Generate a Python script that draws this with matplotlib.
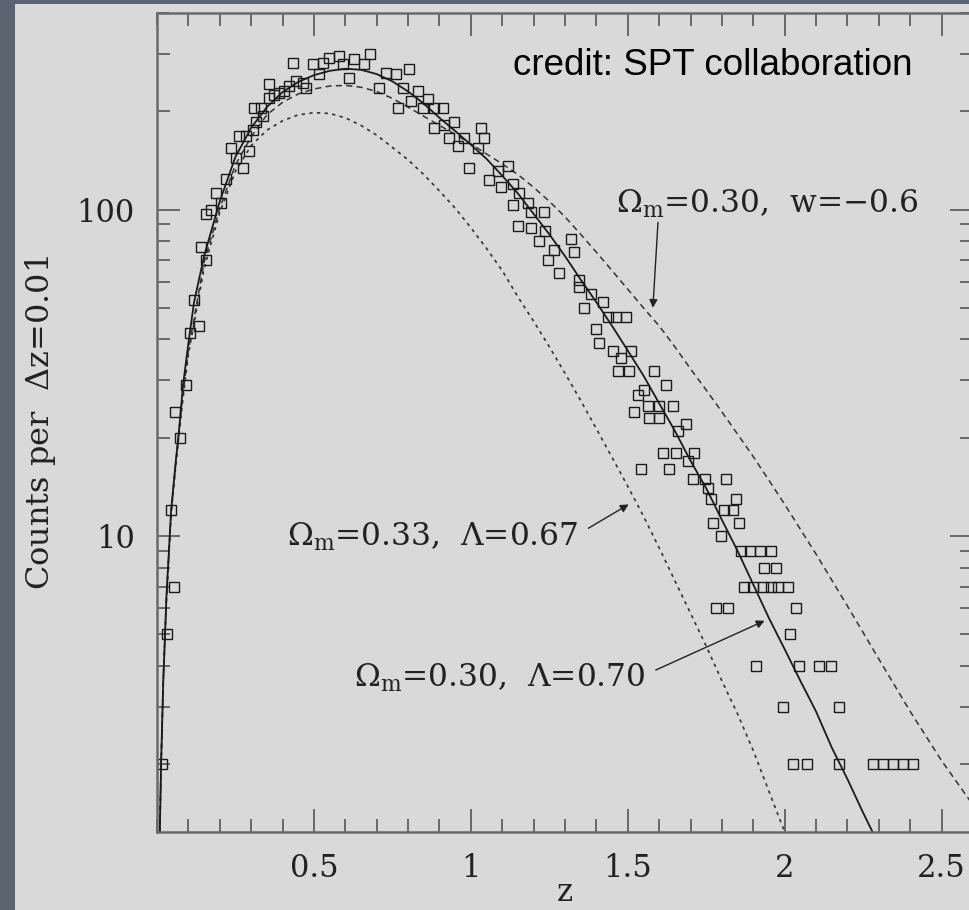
import numpy as np
import matplotlib
matplotlib.use("Agg")
import matplotlib.pyplot as plt
from matplotlib.patches import Rectangle
from matplotlib.ticker import MultipleLocator, LogLocator, FixedLocator, FixedFormatter, NullFormatter

plt.rcParams['font.family'] = ['DejaVu Serif']
plt.rcParams['mathtext.fontset'] = 'dejavuserif'

# simulated cluster counts per dz=0.01
data_z = [0.015, 0.032, 0.045, 0.054, 0.057, 0.072, 0.092, 0.104, 0.118, 0.134,
          0.140, 0.156, 0.156, 0.172, 0.188, 0.204, 0.220, 0.236, 0.252, 0.261,
          0.274, 0.283, 0.293, 0.306, 0.309, 0.315, 0.331, 0.338, 0.357, 0.357,
          0.373, 0.389, 0.404, 0.420, 0.433, 0.443, 0.465, 0.475, 0.497, 0.516,
          0.529, 0.548, 0.580, 0.592, 0.611, 0.627, 0.660, 0.680, 0.707, 0.729,
          0.761, 0.767, 0.783, 0.803, 0.809, 0.831, 0.847, 0.863, 0.882, 0.882,
          0.911, 0.914, 0.930, 0.946, 0.959, 0.978, 0.994, 1.022, 1.032, 1.041,
          1.057, 1.086, 1.096, 1.118, 1.134, 1.134, 1.150, 1.153, 1.182, 1.191,
          1.191, 1.217, 1.232, 1.236, 1.245, 1.264, 1.280, 1.318, 1.328, 1.344,
          1.344, 1.360, 1.382, 1.398, 1.408, 1.420, 1.436, 1.452, 1.462, 1.468,
          1.478, 1.494, 1.503, 1.510, 1.519, 1.532, 1.541, 1.551, 1.564, 1.567,
          1.583, 1.599, 1.599, 1.611, 1.621, 1.631, 1.643, 1.653, 1.659, 1.685,
          1.691, 1.707, 1.710, 1.745, 1.755, 1.764, 1.771, 1.780, 1.796, 1.806,
          1.812, 1.820, 1.834, 1.844, 1.854, 1.860, 1.870, 1.890, 1.900, 1.908,
          1.920, 1.930, 1.933, 1.955, 1.955, 1.971, 1.980, 1.994, 2.010, 2.016,
          2.025, 2.035, 2.045, 2.070, 2.108, 2.146, 2.172, 2.172, 2.280, 2.312,
          2.344, 2.376, 2.408]
data_n = [2, 5, 12, 7, 24, 20, 29, 42, 53, 44,
          77, 70, 97, 100, 112, 105, 124, 154, 144, 168,
          134, 168, 151, 175, 204, 185, 205, 194, 220, 243,
          224, 227, 231, 239, 282, 248, 244, 236, 280, 261,
          282, 292, 296, 279, 253, 290, 279, 300, 236, 262,
          261, 204, 236, 270, 215, 231, 204, 218, 205, 178,
          204, 181, 166, 185, 157, 166, 134, 154, 178, 166,
          123, 131, 117, 136, 120, 103, 89, 112, 105, 98,
          88, 80, 98, 86, 70, 75, 64, 81, 74, 61,
          58, 50, 55, 43, 39, 52, 47, 37, 47, 32,
          35, 47, 32, 37, 24, 27, 16, 28, 25, 23,
          32, 25, 23, 18, 29, 16, 25, 18, 21, 22,
          17, 15, 18, 15, 14, 13, 11, 6, 10, 12,
          15, 6, 12, 13, 11, 9, 7, 9, 7, 4,
          9, 7, 8, 9, 7, 8, 7, 3, 7, 5,
          2, 6, 4, 2, 4, 4, 3, 2, 2, 2,
          2, 2, 2]

# model curves
fit_z = [0.009, 0.013, 0.02, 0.03, 0.045, 0.06, 0.07, 0.083, 0.1, 0.118, 0.15, 0.2,
         0.25, 0.3, 0.35, 0.4, 0.45, 0.5, 0.55, 0.6, 0.65, 0.7, 0.75, 0.8, 0.85,
         0.9, 0.95, 1.0, 1.05, 1.1, 1.15, 1.2, 1.25, 1.3, 1.35, 1.4, 1.45, 1.5,
         1.55, 1.6, 1.65, 1.7, 1.75, 1.8, 1.85, 1.9, 1.95, 2.0, 2.05, 2.1, 2.15,
         2.2, 2.25, 2.28]
fit_n = [1.24, 2.0, 3.6, 6.5, 12, 17, 21, 29, 39, 52, 72, 106,
         145, 178, 206, 229, 246, 258, 266, 270, 268, 260, 247, 230, 211,
         191, 174, 158, 143, 127, 112, 97, 84, 72, 61, 52, 44, 37,
         31, 25.5, 21, 17, 14, 11.2, 9, 7.1, 5.6, 4.5, 3.6, 2.9, 2.25,
         1.8, 1.42, 1.24]

wde_z = [0.009, 0.013, 0.02, 0.03, 0.045, 0.06, 0.08, 0.1, 0.15, 0.2, 0.25, 0.3,
         0.35, 0.4, 0.45, 0.5, 0.55, 0.6, 0.65, 0.7, 0.75, 0.8, 0.85, 0.9, 0.95,
         1.0, 1.05, 1.1, 1.15, 1.2, 1.25, 1.3, 1.35, 1.4, 1.45, 1.5, 1.55, 1.6,
         1.65, 1.7, 1.75, 1.8, 1.85, 1.9, 1.95, 2.0, 2.1, 2.2, 2.3, 2.4, 2.5, 2.6]
wde_n = [1.24, 2.0, 3.6, 6.4, 11.8, 16.8, 26, 37, 69, 101, 137, 167,
         195, 213, 226, 234, 239, 240, 237, 230, 219, 206, 193, 181, 170,
         159, 148, 138, 128, 117, 106, 95, 84, 74, 65, 57, 50, 44,
         38, 32.5, 28, 24, 20.5, 17.5, 14.8, 12.5, 8.8, 6.1, 4.2, 2.9, 2.05, 1.5]

lam_z = [0.009, 0.013, 0.02, 0.03, 0.045, 0.06, 0.08, 0.1, 0.15, 0.2, 0.25, 0.3,
         0.35, 0.4, 0.45, 0.5, 0.55, 0.6, 0.65, 0.7, 0.75, 0.8, 0.85, 0.9, 0.95,
         1.0, 1.05, 1.1, 1.15, 1.2, 1.25, 1.3, 1.35, 1.4, 1.45, 1.5, 1.55, 1.6,
         1.65, 1.7, 1.75, 1.8, 1.85, 1.9, 1.95, 2.0]
lam_n = [1.24, 2.0, 3.6, 6.4, 11.7, 16.5, 25, 36, 66, 98, 131, 157,
         175, 187, 195, 198, 197, 191, 181, 169, 155, 142, 128, 114, 101,
         88, 76, 65, 54, 45.5, 38, 31.5, 26, 21.3, 17.4, 14.2, 11.5, 9.2,
         7.3, 5.8, 4.6, 3.6, 2.85, 2.2, 1.65, 1.24]

xtick_vals = [0.5, 1, 1.5, 2, 2.5]
xtick_labels = ['0.5', '1', '1.5', '2', '2.5']
ytick_vals = [10, 100]
ytick_labels = ['10', '100']

W, H = 970, 910
fig = plt.figure(figsize=(W / 100, H / 100), dpi=100)
fig.patch.set_facecolor('#5a6370')
fig.patches.append(Rectangle((15 / W, 0), 1, (H - 4) / H, transform=fig.transFigure,
                             facecolor='#d9d9d9', edgecolor='none', zorder=-10))

ax = fig.add_axes([157 / W, (H - 832) / H, 816 / W, 819 / H])
ax.set_facecolor('#d9d9d9')
ax.set_yscale('log')
ax.set_xlim(0, 2.6)
ax.set_ylim(1.24, 400)

ink = '#1a1a1a'
ax.plot(lam_z, lam_n, color='#333333', lw=1.2, ls=(0, (2.0, 2.6)))
ax.plot(wde_z, wde_n, color='#333333', lw=1.1, ls=(0, (4.0, 2.8)))
ax.plot(fit_z, fit_n, color=ink, lw=1.3)
ax.plot(data_z, data_n, ls='none', marker='s', ms=7, mfc='none', mec=ink, mew=1.0)

label_size = 22.5
ax.annotate(r'$\Omega_{\rm m}$=0.30,  w=$-$0.6', xy=(1.58, 50), xytext=(1.462, 98),
            ha='left', va='baseline', fontsize=label_size, color='#222222',
            arrowprops=dict(arrowstyle='-|>', color='#222222', lw=1.0,
                            mutation_scale=12, shrinkA=0, shrinkB=0,
                            relpos=(0.14, 0.0)))
ax.annotate(r'$\Omega_{\rm m}$=0.33,  $\Lambda$=0.67', xy=(1.503, 12.5), xytext=(0.414, 9.3),
            ha='left', va='baseline', fontsize=label_size, color='#222222',
            arrowprops=dict(arrowstyle='-|>', color='#222222', lw=1.0,
                            mutation_scale=12, shrinkA=6, shrinkB=0,
                            relpos=(1.0, 0.6)))
ax.annotate(r'$\Omega_{\rm m}$=0.30,  $\Lambda$=0.70', xy=(1.936, 5.5), xytext=(0.627, 3.45),
            ha='left', va='baseline', fontsize=label_size, color='#222222',
            arrowprops=dict(arrowstyle='-|>', color='#222222', lw=1.0,
                            mutation_scale=12, shrinkA=6, shrinkB=0,
                            relpos=(1.0, 0.6)))

fig.text(513 / W, (H - 75) / H, 'credit: SPT collaboration',
         family='Liberation Sans', fontsize=26.5, color='black', ha='left', va='baseline')

# ticks on all four sides, pointing in
ax.xaxis.set_major_locator(FixedLocator(xtick_vals))
ax.xaxis.set_major_formatter(FixedFormatter(xtick_labels))
ax.xaxis.set_minor_locator(MultipleLocator(0.1))
ax.yaxis.set_major_locator(FixedLocator(ytick_vals))
ax.yaxis.set_major_formatter(FixedFormatter(ytick_labels))
ax.yaxis.set_minor_locator(LogLocator(base=10, subs=np.arange(2, 10), numticks=20))
ax.yaxis.set_minor_formatter(NullFormatter())
ax.tick_params(which='both', direction='in', top=True, right=True, color='#555555',
               labelsize=22, labelcolor='#222222')
ax.tick_params(which='major', length=16.5, width=1.2)
ax.tick_params(which='minor', length=9.5, width=1.2)
ax.tick_params(axis='x', pad=15)
ax.tick_params(axis='y', pad=16)
for sp in ax.spines.values():
    sp.set_color('#6a6a6a')
    sp.set_linewidth(1.8)

ax.set_xlabel('z', fontsize=22, color='#222222', labelpad=-5)
ax.set_ylabel(r'Counts per  $\Delta$z=0.01', fontsize=23, color='#222222', labelpad=13)

fig.savefig('out.png', dpi=100, facecolor=fig.get_facecolor())
